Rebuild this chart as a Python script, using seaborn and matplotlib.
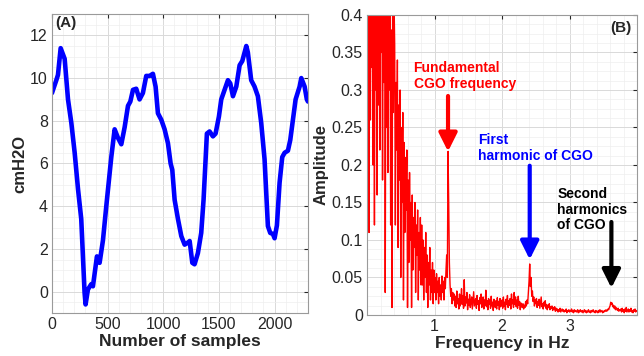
import numpy as np
import pandas as pd
import matplotlib
matplotlib.use("Agg")
import matplotlib.pyplot as plt
from matplotlib.ticker import MultipleLocator
import seaborn as sns

# ---- panel A: pressure trace ----
sample_idx = [0, 39, 54, 78, 114, 144, 174, 204, 234, 263, 293, 302, 323, 353,
              368, 404, 428, 458, 488, 533, 563, 593, 623, 653, 683, 704, 728,
              757, 787, 817, 847, 877, 907, 931, 952, 982, 1012, 1042, 1066,
              1081, 1102, 1132, 1162, 1192, 1222, 1237, 1261, 1281, 1311, 1341,
              1362, 1392, 1416, 1446, 1470, 1500, 1521, 1551, 1581, 1602, 1626,
              1656, 1686, 1710, 1746, 1760, 1790, 1820, 1850, 1880, 1910, 1940,
              1961, 1985, 2000, 2021, 2045, 2069, 2090, 2120, 2141, 2165, 2189,
              2225, 2240, 2270, 2290, 2300]
pressure = [9.3, 9.9, 10.15, 11.4, 10.9, 9.0, 7.9, 6.5, 4.8, 3.4, -0.05, -0.6,
            0.1, 0.35, 0.25, 1.65, 1.35, 2.4, 4.0, 6.3, 7.6, 7.2, 6.9, 7.7,
            8.7, 8.9, 9.45, 9.5, 9.0, 9.3, 10.1, 10.1, 10.2, 9.6, 8.35, 8.05,
            7.6, 6.95, 6.0, 5.7, 4.3, 3.4, 2.6, 2.2, 2.3, 2.37, 1.35, 1.28,
            1.8, 2.75, 4.3, 7.4, 7.5, 7.27, 7.4, 8.2, 9.0, 9.45, 9.9, 9.75,
            9.15, 9.6, 10.6, 10.8, 11.5, 11.2, 9.9, 9.6, 9.15, 7.9, 6.2, 3.07,
            2.75, 2.7, 2.5, 3.1, 5.1, 6.3, 6.5, 6.6, 7.1, 8.05, 9.0, 9.6, 10.0,
            9.6, 9.0, 8.9]

# ---- panel B: amplitude spectrum, 0.01 Hz bins starting at 0.01 Hz ----
freq_step = 0.01
amplitude = [
    # 0.01 - 0.40
    0.17, 0.47, 0.11, 0.52, 0.26, 0.44, 0.33, 0.58, 0.20, 0.49,
    0.12, 0.45, 0.30, 0.51, 0.16, 0.42, 0.28, 0.55, 0.22, 0.47,
    0.35, 0.50, 0.18, 0.44, 0.31, 0.48, 0.03, 0.43, 0.25, 0.46,
    0.19, 0.41, 0.30, 0.45, 0.12, 0.38, 0.01, 0.44, 0.27, 0.42,
    # 0.41 - 0.60
    0.36, 0.12, 0.31, 0.22, 0.34, 0.09, 0.28, 0.18, 0.30, 0.05,
    0.25, 0.15, 0.27, 0.02, 0.23, 0.11, 0.21, 0.14, 0.22, 0.01,
    # 0.61 - 0.80
    0.18, 0.07, 0.19, 0.10, 0.15, 0.01, 0.16, 0.06, 0.13, 0.09,
    0.15, 0.03, 0.12, 0.08, 0.14, 0.02, 0.11, 0.06, 0.13, 0.04,
    # 0.81 - 1.00
    0.12, 0.04, 0.10, 0.02, 0.09, 0.05, 0.11, 0.03, 0.08, 0.01,
    0.07, 0.04, 0.09, 0.02, 0.06, 0.03, 0.07, 0.015, 0.06, 0.03,
    # 1.01 - 1.30 (fundamental at 1.20)
    0.05, 0.02, 0.055, 0.03, 0.045, 0.015, 0.05, 0.025, 0.04, 0.02,
    0.052, 0.03, 0.045, 0.02, 0.05, 0.035, 0.06, 0.08, 0.05, 0.218,
    0.15, 0.07, 0.04, 0.025, 0.035, 0.015, 0.03, 0.02, 0.028, 0.012,
    # 1.31 - 2.35
    0.025, 0.01, 0.032, 0.015, 0.022, 0.008, 0.028, 0.012, 0.02, 0.035,
    0.014, 0.026, 0.009, 0.047, 0.012, 0.024, 0.016, 0.03, 0.007, 0.021,
    0.013, 0.027, 0.01, 0.018, 0.024, 0.008, 0.02, 0.031, 0.012, 0.017,
    0.022, 0.009, 0.026, 0.014, 0.019, 0.006, 0.023, 0.015, 0.028, 0.01,
    0.018, 0.024, 0.008, 0.02, 0.013, 0.033, 0.011, 0.019, 0.007, 0.022,
    0.014, 0.02, 0.009, 0.025, 0.012, 0.017, 0.006, 0.021, 0.015, 0.01,
    0.019, 0.008, 0.023, 0.013, 0.018, 0.007, 0.022, 0.011, 0.016, 0.02,
    0.009, 0.024, 0.012, 0.017, 0.007, 0.021, 0.014, 0.026, 0.01, 0.019,
    0.013, 0.022, 0.008, 0.028, 0.015, 0.02, 0.01, 0.03, 0.014, 0.024,
    0.011, 0.02, 0.009, 0.025, 0.013, 0.018, 0.007, 0.016, 0.012, 0.01,
    0.015, 0.008, 0.013, 0.01, 0.018,
    # 2.36 - 2.50 (first harmonic at 2.41)
    0.012, 0.02, 0.015, 0.03, 0.045, 0.068, 0.038, 0.05, 0.025, 0.032,
    0.018, 0.024, 0.012, 0.02, 0.015,
    # 2.51 - 2.80
    0.022, 0.01, 0.018, 0.013, 0.021, 0.009, 0.016, 0.024, 0.011, 0.015,
    0.008, 0.017, 0.012, 0.019, 0.009, 0.014, 0.007, 0.013, 0.01, 0.015,
    0.007, 0.011, 0.009, 0.012, 0.006, 0.01, 0.008, 0.011, 0.005, 0.009,
    # 2.81 - 3.55
    0.006, 0.008, 0.004, 0.007, 0.005, 0.009, 0.004, 0.006, 0.008, 0.005,
    0.007, 0.004, 0.006, 0.005, 0.008, 0.003, 0.006, 0.005, 0.007, 0.004,
    0.006, 0.005, 0.008, 0.004, 0.006, 0.003, 0.007, 0.005, 0.006, 0.004,
    0.005, 0.007, 0.003, 0.006, 0.004, 0.007, 0.005, 0.004, 0.006, 0.003,
    0.005, 0.007, 0.004, 0.006, 0.003, 0.005, 0.004, 0.007, 0.004, 0.005,
    0.003, 0.006, 0.004, 0.005, 0.007, 0.004, 0.005, 0.003, 0.006, 0.004,
    0.005, 0.003, 0.006, 0.004, 0.007, 0.004, 0.005, 0.006, 0.003, 0.005,
    0.004, 0.006, 0.005, 0.007, 0.005,
    # 3.56 - 3.75 (second harmonic near 3.62)
    0.006, 0.008, 0.007, 0.01, 0.012, 0.017, 0.014, 0.016, 0.011, 0.013,
    0.009, 0.012, 0.007, 0.01, 0.008, 0.006, 0.009, 0.005, 0.007, 0.006,
    # 3.76 - 4.00
    0.008, 0.004, 0.009, 0.005, 0.007, 0.003, 0.008, 0.005, 0.01, 0.004,
    0.006, 0.008, 0.004, 0.007, 0.005, 0.009, 0.004, 0.006, 0.003, 0.007,
    0.005, 0.008, 0.004, 0.006, 0.005,
]
freqs = freq_step * (np.arange(len(amplitude)) + 1)

amp_ticks = [0, 0.05, 0.1, 0.15, 0.2, 0.25, 0.3, 0.35, 0.4]
amp_tick_labels = ["0", "0.05", "0.1", "0.15", "0.2", "0.25", "0.3", "0.35", "0.4"]

peak_labels = ["Fundamental\nCGO frequency", "First\nharmonic of CGO",
               "Second\nharmonics\nof CGO"]
peak_freqs = [1.2, 2.41, 3.62]
peak_colors = ["#ff0000", "#0000ff", "#000000"]
label_pos = [(0.69, 0.338), (1.64, 0.242), (2.82, 0.170)]
arrow_top = [0.292, 0.199, 0.124]
arrow_tip = [0.218, 0.074, 0.036]

sns.set_style("white")
plt.rcParams["font.family"] = ["Liberation Sans", "DejaVu Sans"]

fig = plt.figure(figsize=(6.44, 3.56), dpi=100)
ax_a = fig.add_axes([0.0807, 0.1208, 0.3975, 0.8399])
ax_b = fig.add_axes([0.5699, 0.1152, 0.4193, 0.8427])

df_a = pd.DataFrame({"sample": sample_idx, "p": pressure})
sns.lineplot(data=df_a, x="sample", y="p", ax=ax_a, color="#0000ff",
             linewidth=3.3, sort=False)
df_b = pd.DataFrame({"f": freqs, "amp": amplitude})
sns.lineplot(data=df_b, x="f", y="amp", ax=ax_b, color="#ff0000",
             linewidth=1.0, sort=False)

ax_a.set_xlim(0, 2300)
ax_a.set_ylim(-1, 13)
ax_a.set_xticks([0, 500, 1000, 1500, 2000])
ax_a.set_yticks([0, 2, 4, 6, 8, 10, 12])
ax_a.xaxis.set_minor_locator(MultipleLocator(100))
ax_a.yaxis.set_minor_locator(MultipleLocator(0.5))
ax_a.set_xlabel("Number of samples", fontsize=12.5, fontweight="bold", labelpad=1)
ax_a.set_ylabel("cmH2O", fontsize=12, fontweight="bold", labelpad=2)
ax_a.text(33, 12.9, "(A)", fontsize=11, fontweight="bold", va="top", ha="left")

ax_b.set_xlim(0, 4)
ax_b.set_ylim(0, 0.4)
ax_b.set_xticks([1, 2, 3])
ax_b.set_yticks(amp_ticks)
ax_b.set_yticklabels(amp_tick_labels)
ax_b.xaxis.set_minor_locator(MultipleLocator(0.2))
ax_b.yaxis.set_minor_locator(MultipleLocator(0.0125))
ax_b.set_xlabel("Frequency in Hz", fontsize=12.5, fontweight="bold", labelpad=1)
ax_b.set_ylabel("Amplitude", fontsize=12, fontweight="bold", labelpad=2)
ax_b.text(3.92, 0.392, "(B)", fontsize=11, fontweight="bold", va="top", ha="right")

for lbl, f, col, (tx, ty), top, tip in zip(peak_labels, peak_freqs, peak_colors,
                                           label_pos, arrow_top, arrow_tip):
    ax_b.text(tx, ty, lbl, color=col, fontsize=10, fontweight="bold",
              va="top", ha="left", linespacing=1.1)
    ax_b.annotate("", xy=(f, tip), xytext=(f, top),
                  arrowprops=dict(arrowstyle="-|>,head_length=1.1,head_width=0.55",
                                  color=col, lw=3, shrinkA=0, shrinkB=0))

for ax in (ax_a, ax_b):
    ax.grid(True, which="major", color="#d9d9d9", linewidth=0.7)
    ax.grid(True, which="minor", color="#eeeeee", linewidth=0.5)
    ax.set_axisbelow(True)
    ax.tick_params(which="major", direction="in", length=3, labelsize=11.5,
                   colors="#262626", top=True, right=True, pad=3)
    ax.tick_params(which="minor", length=0)
    for sp in ax.spines.values():
        sp.set_color("#9a9a9a")
        sp.set_linewidth(0.8)

fig.savefig("out.png", dpi=100)
